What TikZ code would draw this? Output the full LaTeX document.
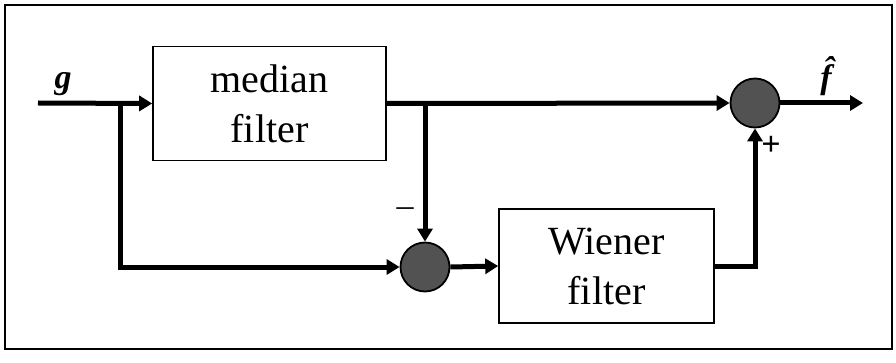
\documentclass[tikz,border=0pt]{standalone}
\usepackage{fontspec}
\setmainfont{Liberation Serif}
\usetikzlibrary{arrows.meta}
\begin{document}
\begin{tikzpicture}[x=1pt,y=-1pt,
  blockbox/.style={draw=black,line width=1.6pt,fill=white,minimum width=#1,minimum height=114pt,inner sep=0pt,align=center,font=\fontsize{40}{50}\selectfont},
  sumnode/.style={circle,draw=black,line width=1.8pt,fill=black!68,minimum size=49pt,inner sep=0pt},
  sig/.style={line width=5pt,-{Triangle[length=13pt,width=15pt]}},
  lab/.style={font=\fontsize{34}{34}\selectfont\bfseries\itshape}]
\useasboundingbox (0,0) rectangle (896,363);
\fill[white] (0,0) rectangle (896,363);
\draw[line width=2pt] (5,5) rectangle (892,349);
\node[blockbox=233pt] (median) at (269.5,103.5) {median\\filter};
\node[blockbox=215pt] (wiener) at (606.5,266) {Wiener\\filter};
\node[sumnode] (s1) at (425,267) {};
\node[sumnode] (s2) at (755,103) {};
\coordinate (in) at (38,103);
\coordinate (split1) at (120,103);
\coordinate (split2) at (425,103);
\coordinate (out) at (863,103);
\draw[sig] (in) -- (median.west);
\draw[sig] (split1) |- (s1.west);
\draw[sig] (median.east) -- (s2.west);
\draw[sig] (split2) -- (s1.north);
\draw[sig] (s1.east) -- (wiener.west);
\draw[sig] (wiener.east) -| (s2.south);
\draw[sig] (s2.east) -- (out);
\node[lab] (glab) at (63,84) {g};
\node[lab] (flab) at (826,76) {\^{f}};
\node[font=\fontsize{34}{34}\selectfont] (minus) at (405,212) {\textendash};
\node[font=\fontsize{34}{34}\selectfont\bfseries] (plus) at (771,146) {+};
\end{tikzpicture}
\end{document}
